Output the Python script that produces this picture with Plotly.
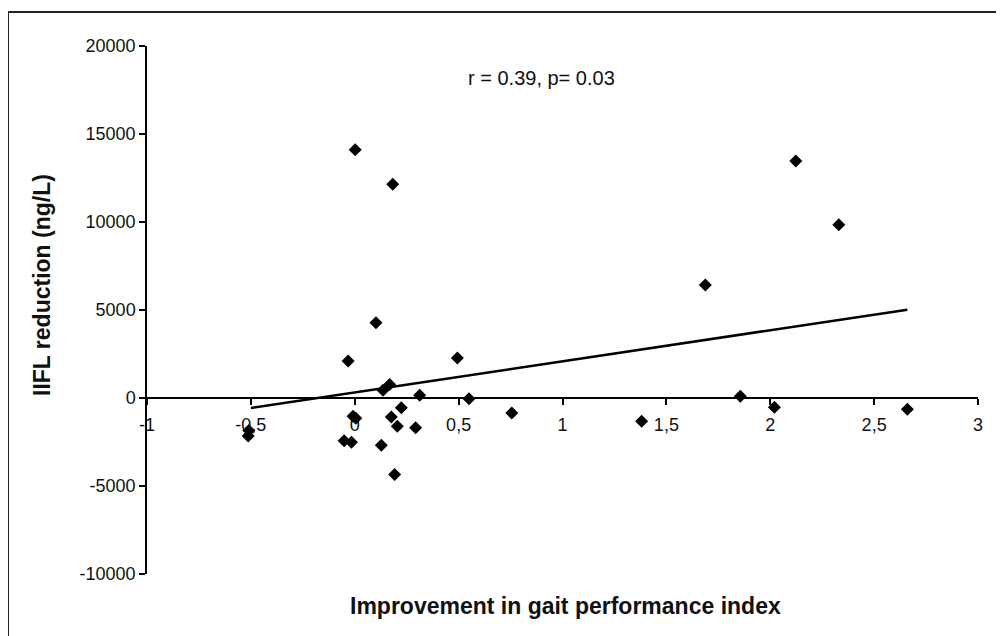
import plotly.graph_objects as go

# Data
gait_improvement = [-0.51, -0.513, -0.051, -0.016, -0.032, -0.008, 0.005, 0.002, 0.102,
                    0.128, 0.136, 0.168, 0.176, 0.183, 0.192, 0.205, 0.224, 0.293,
                    0.3125, 0.494, 0.55, 0.756, 1.381, 1.6875, 1.856, 2.02, 2.123,
                    2.33, 2.66]
nfl_reduction = [-1840, -2160, -2430, -2520, 2100, -1040, -1150, 14110, 4280,
                 -2690, 440, 760, -1080, 12140, -4340, -1610, -550, -1690,
                 150, 2270, -40, -850, -1320, 6420, 100, -530, 13470,
                 9850, -640]

fit_x = [-0.5, 2.66]
fit_y = [-570, 5020]

x_tick_vals = [-1, -0.5, 0, 0.5, 1, 1.5, 2, 2.5, 3]
x_tick_text = ["-1", "-0,5", "0", "0,5", "1", "1,5", "2", "2,5", "3"]
y_tick_vals = [-10000, -5000, 0, 5000, 10000, 15000, 20000]
y_tick_text = ["-10000", "-5000", "0", "5000", "10000", "15000", "20000"]

annotation_text = "r = 0.39, p= 0.03"
x_title = "Improvement in gait performance index"
y_title = "IIFL reduction (ng/L)"

FONT = "Liberation Sans, Arial, sans-serif"

L, R, T, B = 139, 34, 38, 70
PW, PH = 1004 - L - R, 636 - T - B

fig = go.Figure()
fig.add_trace(go.Scatter(
    x=fit_x, y=fit_y, mode="lines",
    line=dict(color="black", width=2.5),
    showlegend=False, hoverinfo="skip"))
fig.add_trace(go.Scatter(
    x=gait_improvement, y=nfl_reduction, mode="markers",
    marker=dict(symbol="diamond", size=10, color="black"),
    showlegend=False))

border_x = (0 - L) / PW
border_y = (636 - B - 4) / PH

fig.update_layout(
    width=1004, height=636,
    margin=dict(l=L, r=R, t=T, b=B),
    paper_bgcolor="white", plot_bgcolor="white",
    font=dict(family=FONT, size=18, color="#111111"),
    xaxis=dict(
        range=[-1, 3], anchor="free", position=1/3,
        showline=True, linecolor="black", linewidth=1.5,
        ticks="outside", ticklen=6, tickcolor="black", tickwidth=1.5,
        tickvals=x_tick_vals, ticktext=x_tick_text,
        ticklabelstandoff=5,
        showgrid=False, zeroline=False,
        tickfont=dict(family=FONT, size=18, color="#111111")),
    yaxis=dict(
        range=[-10000, 20000],
        showline=True, linecolor="black", linewidth=1.5,
        ticks="outside", ticklen=6, tickcolor="black", tickwidth=1.5,
        tickvals=y_tick_vals, ticktext=y_tick_text,
        showgrid=False, zeroline=False,
        tickfont=dict(family=FONT, size=18, color="#111111")),
    annotations=[
        dict(text=annotation_text, x=0.901, y=18177, xref="x", yref="y",
             showarrow=False, font=dict(family=FONT, size=20, color="#111111")),
        dict(text="<b>" + x_title + "</b>", x=(557 - L) / PW, y=(636 - B - 598) / PH,
             xref="paper", yref="paper", showarrow=False,
             xanchor="center", yanchor="middle",
             font=dict(family=FONT, size=23, color="#111111")),
        dict(text="<b>" + y_title + "</b>", x=(34 - L) / PW, y=(636 - B - 277) / PH,
             xref="paper", yref="paper", showarrow=False, textangle=-90,
             xanchor="center", yanchor="middle",
             font=dict(family=FONT, size=23, color="#111111")),
    ],
    shapes=[
        dict(type="line", xref="paper", yref="paper",
             x0=border_x, x1=1.2, y0=border_y, y1=border_y,
             line=dict(color="#222222", width=2)),
        dict(type="line", xref="paper", yref="paper",
             x0=border_x, x1=border_x, y0=-0.3, y1=border_y,
             line=dict(color="#222222", width=2)),
    ],
)

fig.write_html("out.html")
